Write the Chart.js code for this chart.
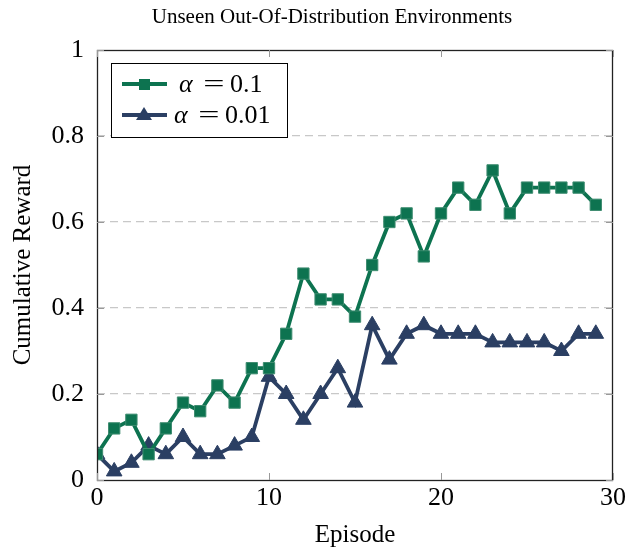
<!DOCTYPE html>
<html>
<head>
<meta charset="utf-8">
<script src="https://cdn.jsdelivr.net/npm/chart.js@4"></script>
<style>
body{margin:0;background:#fff;}
</style>
</head>
<body>
<canvas id="c" width="641" height="550"></canvas>
<script>
const episodes=[0,1,2,3,4,5,6,7,8,9,10,11,12,13,14,15,16,17,18,19,20,21,22,23,24,25,26,27,28,29];
const alpha1=[0.06,0.12,0.14,0.06,0.12,0.18,0.16,0.22,0.18,0.26,0.26,0.34,0.48,0.42,0.42,0.38,0.50,0.60,0.62,0.52,0.62,0.68,0.64,0.72,0.62,0.68,0.68,0.68,0.68,0.64];
const alpha01=[0.06,0.02,0.04,0.08,0.06,0.10,0.06,0.06,0.08,0.10,0.24,0.20,0.14,0.20,0.26,0.18,0.36,0.28,0.34,0.36,0.34,0.34,0.34,0.32,0.32,0.32,0.32,0.30,0.34,0.34];
const seriesNames=['0.1','0.01'];
const xTicks=[0,10,20,30];
const yTicks=[0,0.2,0.4,0.6,0.8,1];

const green='#0d7350', blue='#2b3f63';
const serif='"Liberation Serif","DejaVu Serif",serif';

// frame, inner ticks, title and legend
const extras={
  id:'extras',
  afterDraw(chart){
    const ctx=chart.ctx, a=chart.chartArea, xs=chart.scales.x, ys=chart.scales.y;
    ctx.save();
    ctx.strokeStyle='#222';ctx.lineWidth=1.3;
    ctx.strokeRect(a.left+0.5,a.top+0.5,a.right-a.left-1,a.bottom-a.top);
    ctx.strokeStyle='#999';ctx.lineWidth=1;
    xTicks.forEach(v=>{
      const px=Math.round(xs.getPixelForValue(v))+0.5;
      ctx.beginPath();ctx.moveTo(px,a.bottom);ctx.lineTo(px,a.bottom-7);
      ctx.moveTo(px,a.top);ctx.lineTo(px,a.top+7);ctx.stroke();
    });
    yTicks.forEach(v=>{
      const py=Math.round(ys.getPixelForValue(v))+0.5;
      ctx.beginPath();ctx.moveTo(a.left,py);ctx.lineTo(a.left+7,py);
      ctx.moveTo(a.right,py);ctx.lineTo(a.right-7,py);ctx.stroke();
    });
    // title
    ctx.fillStyle='#000';ctx.font='21px '+serif;ctx.textAlign='center';ctx.textBaseline='middle';
    ctx.fillText('Unseen Out-Of-Distribution Environments',332,17);
    // legend
    const bx=111,by=63,bw=176,bh=74;
    ctx.fillStyle='#fff';ctx.fillRect(bx,by,bw,bh);
    ctx.strokeStyle='#000';ctx.lineWidth=1;ctx.strokeRect(bx+0.5,by+0.5,bw,bh);
    chart.data.datasets.forEach((ds,i)=>{
      const y=by+21+i*31;
      ctx.strokeStyle=ds.borderColor;ctx.lineWidth=3.8;
      ctx.beginPath();ctx.moveTo(122,y);ctx.lineTo(167,y);ctx.stroke();
      ctx.fillStyle=ds.backgroundColor;
      if(i===0){ctx.fillRect(139,y-5,11,11);}
      else{ctx.beginPath();ctx.moveTo(144,y-8);ctx.lineTo(152,y+5);ctx.lineTo(136,y+5);ctx.closePath();ctx.fill();}
      ctx.fillStyle='#000';ctx.textBaseline='middle';
      const tx=i===0?179:174;
      ctx.textAlign='left';
      ctx.font='italic 26px '+serif;ctx.fillText('α',tx,y+1);
      ctx.font='26px '+serif;
      ctx.save();ctx.translate(tx+35,y+1);ctx.scale(1.45,1);ctx.textAlign='center';ctx.fillText('=',0,0);ctx.restore();
      ctx.fillText(seriesNames[i],tx+51,y+1);
    });
    ctx.restore();
  }
};

new Chart(document.getElementById('c'),{
  type:'line',
  data:{datasets:[
    {label:'α = 0.1',data:episodes.map((e,i)=>({x:e,y:alpha1[i]})),borderColor:green,backgroundColor:green,
     borderWidth:3.8,pointStyle:'rect',pointRadius:8,pointBorderColor:'#3e8c70',pointBorderWidth:1,tension:0},
    {label:'α = 0.01',data:episodes.map((e,i)=>({x:e,y:alpha01[i]})),borderColor:blue,backgroundColor:blue,
     borderWidth:3.8,pointStyle:'triangle',pointRadius:9,pointBorderWidth:1,tension:0}
  ]},
  options:{
    responsive:false,animation:false,
    layout:{padding:{left:0,right:28,top:50,bottom:0}},
    plugins:{legend:{display:false},title:{display:false},tooltip:{enabled:false}},
    scales:{
      x:{type:'linear',min:0,max:30,
        afterBuildTicks(s){s.ticks=xTicks.map(v=>({value:v}));},
        afterFit(s){s.height=70;},
        grid:{display:false,drawTicks:false},
        border:{display:false},
        ticks:{color:'#000',font:{family:serif,size:26},padding:3,maxRotation:0},
        title:{display:true,text:'Episode',color:'#000',font:{family:serif,size:25},padding:{top:6,bottom:0}}
      },
      y:{min:0,max:1,
        afterBuildTicks(s){s.ticks=yTicks.map(v=>({value:v}));},
        afterFit(s){s.width=97;},
        grid:{drawTicks:false,color:c=>(c.tick&&c.tick.value>0&&c.tick.value<1)?'#c8c8c8':'rgba(0,0,0,0)',lineWidth:1.3},
        border:{display:false,dash:[8,5]},
        ticks:{color:'#000',font:{family:serif,size:26},padding:13,callback:v=>String(Math.round(v*10)/10)},
        title:{display:true,text:'Cumulative Reward',color:'#000',font:{family:serif,size:25},padding:{top:8,bottom:0}}
      }
    }
  },
  plugins:[extras]
});
</script>
</body>
</html>
